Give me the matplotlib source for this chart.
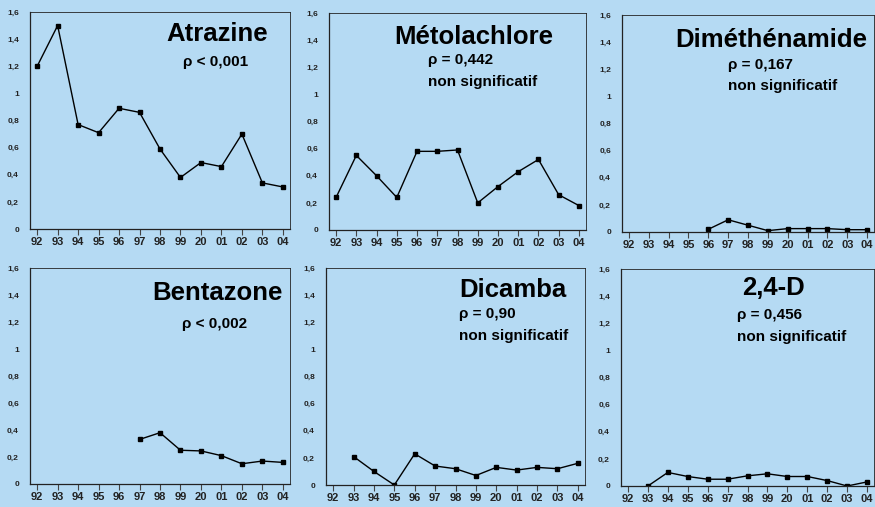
import matplotlib.pyplot as plt
import numpy as np

years = ['92', '93', '94', '95', '96', '97', '98', '99', '20', '01', '02', '03', '04']

# concentrations per year, None where not measured
atrazine = [1.20, 1.50, 0.77, 0.71, 0.89, 0.86, 0.59, 0.38, 0.49, 0.46, 0.70, 0.34, 0.31]
metolachlore = [0.24, 0.55, 0.40, 0.24, 0.58, 0.58, 0.59, 0.20, 0.32, 0.43, 0.52, 0.26, 0.18]
dimethenamide = [None, None, None, None, 0.02, 0.09, 0.05, 0.01, 0.025, 0.025, 0.025, 0.017, 0.017]
bentazone = [None, None, None, None, None, 0.33, 0.38, 0.25, 0.245, 0.21, 0.15, 0.17, 0.16]
dicamba = [None, 0.21, 0.10, 0.0, 0.23, 0.14, 0.12, 0.07, 0.13, 0.11, 0.13, 0.12, 0.16]
d24 = [None, 0.0, 0.10, 0.07, 0.05, 0.05, 0.075, 0.09, 0.07, 0.07, 0.04, 0.0, 0.03]

names = ['Atrazine', 'Métolachlore', 'Diméthénamide', 'Bentazone', 'Dicamba', '2,4-D']
rho_txt = ['ρ < 0,001', 'ρ = 0,442', 'ρ = 0,167', 'ρ < 0,002', 'ρ = 0,90', 'ρ = 0,456']
signif = [True, False, False, True, False, False]
series = [atrazine, metolachlore, dimethenamide, bentazone, dicamba, d24]

bg = '#B5DAF3'
W, H = 875, 507
# axes boxes in pixels: left, right, top, bottom
boxes = [(30, 290, 12, 229), (329, 586, 13, 230), (622, 874, 15, 232),
         (30, 290, 268, 484), (326, 585, 268, 485), (621, 874, 269, 486)]
# title pos (x, y), rho text pos (x, y, ha), second line y
title_pos = [(0.72, 0.90), (0.562, 0.889), (0.593, 0.885),
             (0.72, 0.884), (0.72, 0.899), (0.603, 0.912)]
rho_pos = [(0.715, 0.77, 'center'), (0.385, 0.783, 'left'), (0.42, 0.77, 'left'),
           (0.71, 0.74, 'center'), (0.514, 0.788, 'left'), (0.458, 0.79, 'left')]
ns_y = [None, 0.682, 0.673, None, 0.687, 0.687]

plt.rcParams['font.family'] = ['Liberation Sans', 'DejaVu Sans']
fig = plt.figure(figsize=(W / 100, H / 100), dpi=100, facecolor=bg)

x = np.arange(len(years))
for i in range(6):
    l, r, t, b = boxes[i]
    ax = fig.add_axes([l / W, 1 - b / H, (r - l) / W, (b - t) / H], facecolor=bg)
    y = np.array([np.nan if v is None else v for v in series[i]], dtype=float)
    ax.plot(x, y, color='black', lw=1, marker='s', ms=3.5)
    ax.set_xlim(-0.35, 12.35)
    ax.set_ylim(0, 1.6)
    ax.set_xticks(x)
    ax.set_xticklabels(years, fontsize=8, fontweight='bold', color='#222222')
    yt = [0, 0.2, 0.4, 0.6, 0.8, 1.0, 1.2, 1.4, 1.6]
    ax.set_yticks(yt)
    ax.set_yticklabels(['0', '0,2', '0,4', '0,6', '0,8', '1', '1,2', '1,4', '1,6'],
                       fontsize=6, fontweight='bold', color='#222222')
    ax.tick_params(axis='y', length=0, pad=8)
    ax.tick_params(axis='x', length=4, width=0.8, color='#444444', pad=2)
    for sp in ax.spines.values():
        sp.set_linewidth(0.9)
        sp.set_color('#222222')
    ax.spines['top'].set_linewidth(0.6)
    ax.spines['right'].set_linewidth(0.6)

    tx, ty = title_pos[i]
    ax.text(tx, ty, names[i], transform=ax.transAxes, ha='center', va='center',
            fontsize=18.5, fontweight='bold', color='black')
    rx, ry, ha = rho_pos[i]
    ax.text(rx, ry, rho_txt[i], transform=ax.transAxes, ha=ha, va='center',
            fontsize=11, fontweight='bold', color='black')
    if not signif[i]:
        ax.text(rx, ns_y[i], 'non significatif', transform=ax.transAxes, ha='left',
                va='center', fontsize=11, fontweight='bold', color='black')

fig.savefig('out.png', dpi=100, facecolor=bg)
